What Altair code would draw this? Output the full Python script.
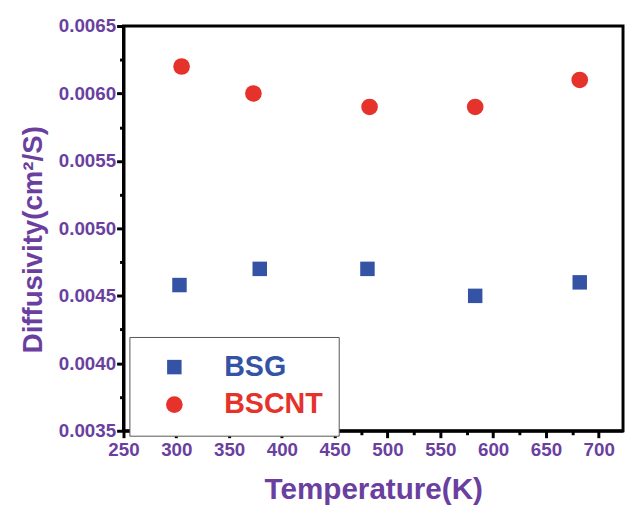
import altair as alt
import pandas as pd

samples = ["BSG", "BSCNT"]
temp_bsg = [303, 379, 481, 583, 682]
diff_bsg = [0.00458, 0.00470, 0.00470, 0.00450, 0.00460]
temp_bscnt = [305, 373, 483, 583, 682]
diff_bscnt = [0.00620, 0.00600, 0.00590, 0.00590, 0.00610]

x_ticks = list(range(250, 721, 25))
y_ticks = [round(0.0035 + 0.00025 * i, 5) for i in range(13)]

PURPLE = "#6a3fa0"
BLUE = "#3553a4"
RED = "#e5322b"

df = pd.DataFrame({
    "Temperature": temp_bsg + temp_bscnt,
    "Diffusivity": diff_bsg + diff_bscnt,
    "Sample": ["BSG"] * len(temp_bsg) + ["BSCNT"] * len(temp_bscnt),
})

leg = alt.Legend(orient="none", legendX=6, legendY=315, title=None)

chart = alt.Chart(df).mark_point(filled=True, opacity=1).encode(
    x=alt.X("Temperature:Q",
            scale=alt.Scale(domain=[250, 723], nice=False, zero=False),
            axis=alt.Axis(values=x_ticks, title="Temperature(K)",
                          labelExpr="datum.value % 50 == 0 ? datum.label : ''",
                          tickSize={"condition": {"test": "datum.value % 50 == 0", "value": 7}, "value": 4},
                          labelPadding=3, labelFlush=False, labelFontSize=19,
                          titleBaseline="alphabetic", titleY=69, grid=False)),
    y=alt.Y("Diffusivity:Q",
            scale=alt.Scale(domain=[0.0035, 0.0065], nice=False, zero=False),
            axis=alt.Axis(values=y_ticks, title="Diffusivity(cm²/S)",
                          labelExpr="round(datum.value*10000) % 5 == 0 ? format(datum.value, '.4f') : ''",
                          tickSize={"condition": {"test": "round(datum.value*10000) % 5 == 0", "value": 7}, "value": 4},
                          labelPadding=1, labelFlush=False, labelFontSize=19,
                          titleBaseline="alphabetic", titleX=-83, titleY=216, titleFontSize=28,
                          grid=False)),
    color=alt.Color("Sample:N", scale=alt.Scale(domain=samples, range=[BLUE, RED]), legend=leg),
    shape=alt.Shape("Sample:N", scale=alt.Scale(domain=samples, range=["square", "circle"]), legend=leg),
    size=alt.Size("Sample:N", scale=alt.Scale(domain=samples, range=[215, 285]), legend=None),
).properties(
    width=506, height=410,
    autosize=alt.AutoSizeParams(type="none"),
    padding={"left": 117, "top": 15, "right": 2, "bottom": 76},
).configure_view(
    stroke="black", strokeWidth=3
).configure_axis(
    domainColor="black", domainWidth=3, tickColor="black", tickWidth=3,
    labelColor=PURPLE, labelFont="Liberation Sans", labelFontWeight="bold",
    titleColor=PURPLE, titleFont="Liberation Sans", titleFontWeight="bold", titleFontSize=30,
    labelOverlap=False,
).configure_legend(
    strokeColor="#555555", strokeWidth=1, fillColor="white",
    padding=16, symbolOffset=15, labelOffset=36, rowPadding=8,
    symbolSize=340, symbolStrokeWidth=0, symbolOpacity=1,
    labelFont="Liberation Sans", labelFontWeight="bold", labelFontSize=29,
    labelColor={"expr": "datum.value == 'BSG' ? '" + BLUE + "' : '" + RED + "'"},
)

chart.save("out.html", embed_options={"renderer": "svg", "actions": False})
